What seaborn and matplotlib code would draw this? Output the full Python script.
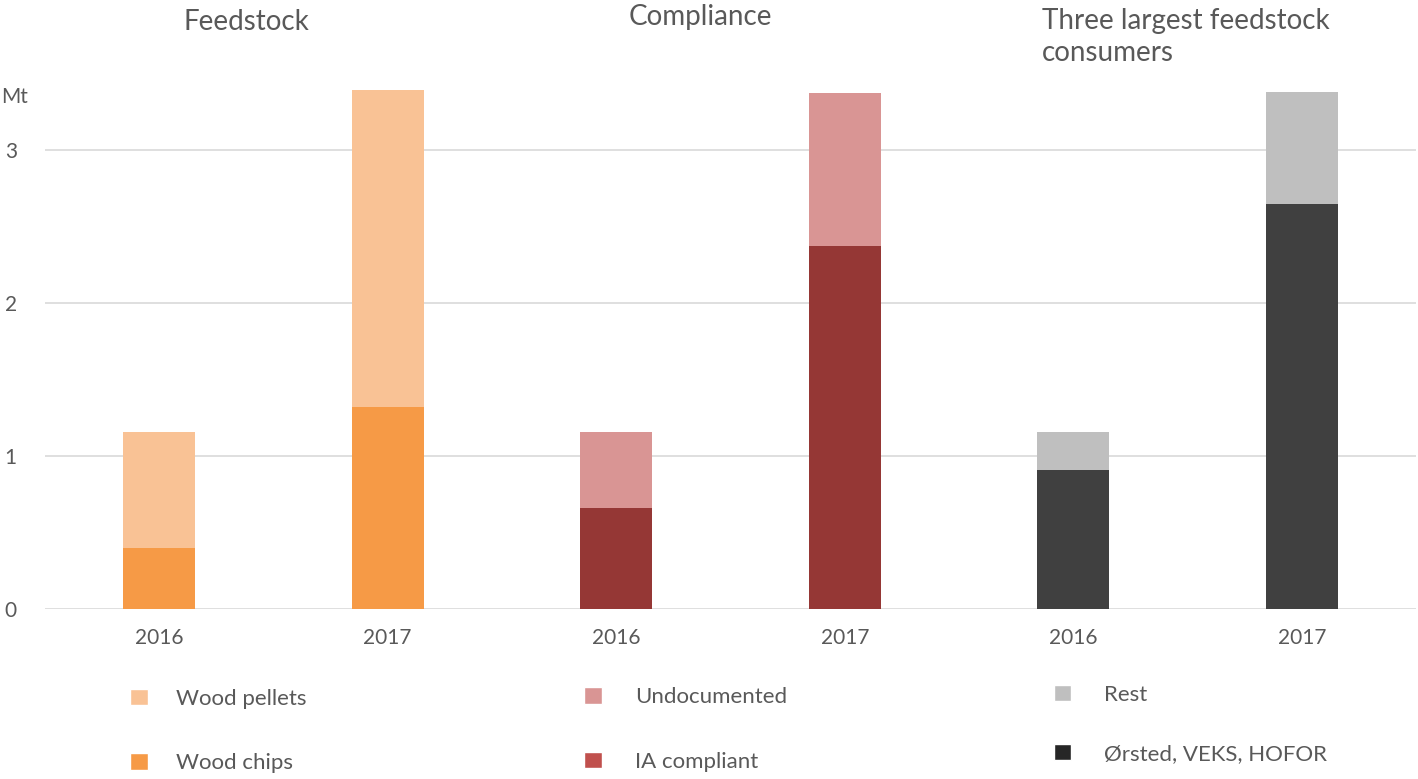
import matplotlib
matplotlib.use("Agg")
import matplotlib.pyplot as plt
from matplotlib.patches import Patch
import pandas as pd
import seaborn as sns

sns.set_style("white")
plt.rcParams['font.family'] = ['Lato', 'DejaVu Sans']

years = ["2016", "2017", "2016", "2017", "2016", "2017"]
groups = ["Feedstock", "Feedstock", "Compliance", "Compliance", "Consumers", "Consumers"]
totals = [1.16, 3.39, 1.16, 3.37, 1.16, 3.38]
bottoms = [0.40, 1.32, 0.66, 2.37, 0.91, 2.65]

top_labels = ["Wood pellets", "Undocumented", "Rest"]
bottom_labels = ["Wood chips", "IA compliant", "Ørsted, VEKS, HOFOR"]
top_colors = ["#F9C295", "#D99594", "#BFBFBF"]
bottom_colors = ["#F69A46", "#953735", "#404040"]
legend_bottom_colors = ["#F69A46", "#C0504D", "#262626"]
titles = ["Feedstock", "Compliance", "Three largest feedstock\nconsumers"]

df = pd.DataFrame({"pos": [str(i) for i in range(6)], "year": years,
                   "group": groups, "total": totals, "bottom": bottoms})

txt = "#595959"
fig = plt.figure(figsize=(14.18, 7.79), dpi=100)
ax = fig.add_axes([0.0315, 0.2182, 0.9673, 0.6776])

light = {str(i): top_colors[i // 2] for i in range(6)}
dark = {str(i): bottom_colors[i // 2] for i in range(6)}
sns.barplot(data=df, x="pos", y="total", hue="pos", palette=light,
            width=0.315, legend=False, ax=ax, saturation=1, linewidth=0)
sns.barplot(data=df, x="pos", y="bottom", hue="pos", palette=dark,
            width=0.315, legend=False, ax=ax, saturation=1, linewidth=0)

ax.set_xlim(-0.5, 5.5)
ax.set_ylim(0, 3.45)
ax.set_yticks([0, 1, 2, 3])
ax.yaxis.grid(True, color="#D9D9D9", linewidth=1.2)
ax.set_axisbelow(True)
for s in ax.spines.values():
    s.set_visible(False)
ax.set_xticks(range(6))
ax.set_xticklabels(years)
ax.tick_params(axis="both", length=0, labelsize=15, colors=txt)
ax.tick_params(axis="x", pad=14)
ax.tick_params(axis="y", pad=20)
ax.set_xlabel("")
ax.set_ylabel("")
fig.text(0.0005, 0.875, "Mt", fontsize=15, color=txt, va="center")

fig.text(0.174, 0.972, titles[0], fontsize=20, color=txt, ha="center", va="center")
fig.text(0.494, 0.978, titles[1], fontsize=20, color=txt, ha="center", va="center")
fig.text(0.735, 0.99, titles[2], fontsize=20, color=txt, ha="left", va="top",
         linespacing=1.3)

leg_x = [0.092, 0.412, 0.743]
leg_y = [0.116, 0.118, 0.121]
leg_sp = [1.75, 1.75, 1.5]
for i in range(3):
    handles = [Patch(facecolor=top_colors[i], label=top_labels[i]),
               Patch(facecolor=legend_bottom_colors[i], label=bottom_labels[i])]
    fig.legend(handles=handles, loc="upper left", bbox_to_anchor=(leg_x[i], leg_y[i]),
               frameon=False, fontsize=16, labelcolor=txt, handlelength=0.78,
               handleheight=0.78, handletextpad=1.25 + 0.25 * (i > 0),
               labelspacing=leg_sp[i] + 0.25, borderaxespad=0, borderpad=0)

fig.savefig("out.png", dpi=100)
